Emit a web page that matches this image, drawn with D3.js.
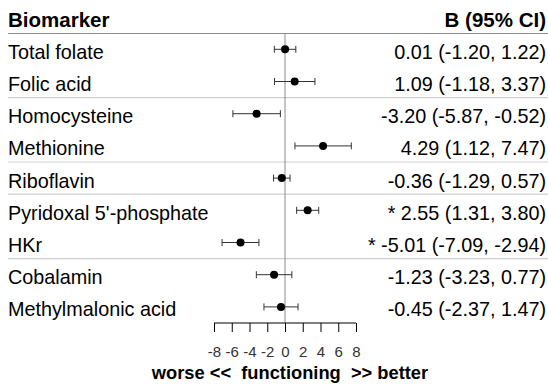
<!DOCTYPE html>
<html><head><meta charset="utf-8">
<script src="https://cdn.jsdelivr.net/npm/d3@7"></script>
<style>
html,body{margin:0;padding:0;background:#fff;}
svg{display:block;font-family:"Liberation Sans",Arial,sans-serif;}
</style></head>
<body>
<div id="chart"></div>
<script>
const biomarkers = ["Total folate","Folic acid","Homocysteine","Methionine","Riboflavin","Pyridoxal 5'-phosphate","HKr","Cobalamin","Methylmalonic acid"];
const estimates = [0.01, 1.09, -3.20, 4.29, -0.36, 2.55, -5.01, -1.23, -0.45];
const lowerCI = [-1.20, -1.18, -5.87, 1.12, -1.29, 1.31, -7.09, -3.23, -2.37];
const upperCI = [1.22, 3.37, -0.52, 7.47, 0.57, 3.80, -2.94, 0.77, 1.47];
const significant = [false, false, false, false, false, true, true, false, false];
const ciLabels = ["0.01 (-1.20, 1.22)","1.09 (-1.18, 3.37)","-3.20 (-5.87, -0.52)","4.29 (1.12, 7.47)","-0.36 (-1.29, 0.57)","* 2.55 (1.31, 3.80)","* -5.01 (-7.09, -2.94)","-1.23 (-3.23, 0.77)","-0.45 (-2.37, 1.47)"];
const separatorsAfter = [1, 3, 4, 6];
const xTicks = [-8,-6,-4,-2,0,2,4,6,8];
const xTickLabels = ["-8","-6","-4","-2","0","2","4","6","8"];
const xLabel = "worse <<  functioning  >> better";

const W = 548, H = 384;
const svg = d3.select("#chart").append("svg").attr("width", W).attr("height", H);

const x = d3.scaleLinear().domain([-8, 8]).range([214, 356]);
const y = d3.scaleLinear().domain([0, biomarkers.length - 1]).range([49.3, 49.3 + 32.2 * 8]);
const axisY = 323;

// header
svg.append("text").attr("x", 8).attr("y", 26.5).attr("font-size", 20.5).attr("font-weight", "bold").text("Biomarker");
svg.append("text").attr("x", 546).attr("y", 26.5).attr("text-anchor", "end").attr("font-size", 20.5).attr("font-weight", "bold").text("B (95% CI)");
svg.append("line").attr("x1", 8).attr("x2", W).attr("y1", 33.5).attr("y2", 33.5).attr("stroke", "#8c8c8c").attr("stroke-width", 1.2);

// separators
svg.selectAll("line.sep").data(separatorsAfter).join("line").attr("class", "sep")
  .attr("x1", 8).attr("x2", W)
  .attr("y1", d => y(d + 0.5)).attr("y2", d => y(d + 0.5))
  .attr("stroke", "#cfcfcf").attr("stroke-width", 1.2);

// zero line
svg.append("line").attr("x1", x(0)).attr("x2", x(0)).attr("y1", 34).attr("y2", axisY)
  .attr("stroke", "#8c8c8c").attr("stroke-width", 1);

// row labels
svg.selectAll("text.lab").data(biomarkers).join("text").attr("class", "lab")
  .attr("x", 8).attr("y", (d, i) => y(i) + 9.5).attr("font-size", 19.8).attr("fill", "#000").text(d => d);
svg.selectAll("text.ci").data(ciLabels).join("text").attr("class", "ci")
  .attr("x", 546).attr("y", (d, i) => y(i) + 9.5).attr("text-anchor", "end").attr("font-size", 19.8).attr("fill", "#000").text(d => d);

// error bars
const idx = d3.range(biomarkers.length);
const g = svg.append("g").attr("stroke", "#333").attr("stroke-width", 1);
g.selectAll("line.ci").data(idx).join("line").attr("class", "ci")
  .attr("x1", i => x(lowerCI[i])).attr("x2", i => x(upperCI[i])).attr("y1", i => y(i)).attr("y2", i => y(i));
g.selectAll("line.capl").data(idx).join("line").attr("class", "capl")
  .attr("x1", i => x(lowerCI[i])).attr("x2", i => x(lowerCI[i])).attr("y1", i => y(i) - 3.5).attr("y2", i => y(i) + 3.5);
g.selectAll("line.capu").data(idx).join("line").attr("class", "capu")
  .attr("x1", i => x(upperCI[i])).attr("x2", i => x(upperCI[i])).attr("y1", i => y(i) - 3.5).attr("y2", i => y(i) + 3.5);
svg.selectAll("circle.pt").data(idx).join("circle").attr("class", "pt")
  .attr("cx", i => x(estimates[i])).attr("cy", i => y(i)).attr("r", 4).attr("fill", "#000");

// axis
const axis = d3.axisBottom(x).tickValues(xTicks).tickSize(9).tickPadding(14)
  .tickFormat((d, i) => xTickLabels[i]);
const ag = svg.append("g").attr("transform", `translate(0,${axisY})`).call(axis);
ag.select(".domain").attr("stroke", "#000").attr("d", `M${x(-8)},0H${x(8)}`);
ag.selectAll(".tick line").attr("stroke", "#000");
ag.selectAll(".tick text").attr("font-size", 15).attr("fill", "#333").attr("font-family", "Liberation Sans, Arial, sans-serif").attr("dy", "0.71em");

svg.append("text").attr("x", 290).attr("y", 378.5).attr("text-anchor", "middle")
  .attr("font-size", 18.3).attr("font-weight", "bold").style("white-space", "pre").text(xLabel);
</script>
</body></html>
